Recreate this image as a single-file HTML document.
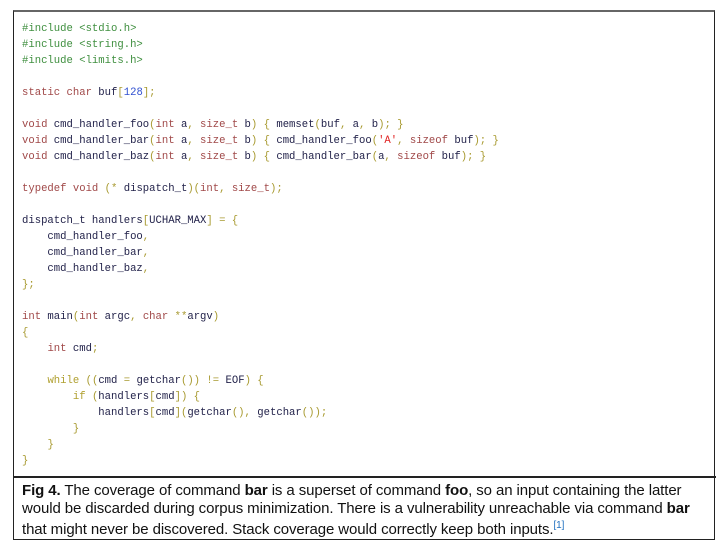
<!DOCTYPE html>
<html><head><meta charset="utf-8"><style>
html,body{margin:0;padding:0;background:#fff;width:728px;height:553px;overflow:hidden}
#box{position:absolute;left:13px;top:10px;width:702px;height:530px;border:1px solid #222;border-top:2px solid #666;box-sizing:border-box}
#div{position:absolute;left:13px;top:476px;width:703px;height:2px;background:#222}
pre{position:absolute;left:22px;top:21px;margin:0;font-family:"Liberation Mono",monospace;font-size:10.6px;line-height:16px;color:#22224a}
.g{color:#3f8f3f}.k{color:#a04848}.p{color:#a89a30}.n{color:#3050d0}.s{color:#e02020}.w{color:#b0a030}
#cap{position:absolute;left:22px;top:482px;width:688px;font-family:"Liberation Sans",Arial,sans-serif;font-size:15px;line-height:17.5px;color:#111;letter-spacing:-0.1px}
sup{color:#2070c0;font-size:10px}
</style></head><body>
<div id="box"></div><div id="div"></div>
<pre><span class="g">#include &lt;stdio.h&gt;
#include &lt;string.h&gt;
#include &lt;limits.h&gt;</span>

<span class="k">static char</span> buf<span class="p">[</span><span class="n">128</span><span class="p">];</span>

<span class="k">void</span> cmd_handler_foo<span class="p">(</span><span class="k">int</span> a<span class="p">,</span> <span class="k">size_t</span> b<span class="p">) {</span> memset<span class="p">(</span>buf<span class="p">,</span> a<span class="p">,</span> b<span class="p">); }</span>
<span class="k">void</span> cmd_handler_bar<span class="p">(</span><span class="k">int</span> a<span class="p">,</span> <span class="k">size_t</span> b<span class="p">) {</span> cmd_handler_foo<span class="p">(</span><span class="s">'A'</span><span class="p">,</span> <span class="k">sizeof</span> buf<span class="p">); }</span>
<span class="k">void</span> cmd_handler_baz<span class="p">(</span><span class="k">int</span> a<span class="p">,</span> <span class="k">size_t</span> b<span class="p">) {</span> cmd_handler_bar<span class="p">(</span>a<span class="p">,</span> <span class="k">sizeof</span> buf<span class="p">); }</span>

<span class="k">typedef void</span> <span class="p">(*</span> dispatch_t<span class="p">)(</span><span class="k">int</span><span class="p">,</span> <span class="k">size_t</span><span class="p">);</span>

dispatch_t handlers<span class="p">[</span>UCHAR_MAX<span class="p">] = {</span>
    cmd_handler_foo<span class="p">,</span>
    cmd_handler_bar<span class="p">,</span>
    cmd_handler_baz<span class="p">,</span>
<span class="p">};</span>

<span class="k">int</span> main<span class="p">(</span><span class="k">int</span> argc<span class="p">,</span> <span class="k">char</span> <span class="p">**</span>argv<span class="p">)</span>
<span class="p">{</span>
    <span class="k">int</span> cmd<span class="p">;</span>

    <span class="w">while</span> <span class="p">((</span>cmd <span class="p">=</span> getchar<span class="p">()) !=</span> EOF<span class="p">) {</span>
        <span class="w">if</span> <span class="p">(</span>handlers<span class="p">[</span>cmd<span class="p">]) {</span>
            handlers<span class="p">[</span>cmd<span class="p">](</span>getchar<span class="p">(),</span> getchar<span class="p">());</span>
        <span class="p">}</span>
    <span class="p">}</span>
<span class="p">}</span></pre>
<div id="cap"><b>Fig 4.</b> The coverage of command <b>bar</b> is a superset of command <b>foo</b>, so an input containing the latter would be discarded during corpus minimization. There is a vulnerability unreachable via command <b>bar</b> that might never be discovered. Stack coverage would correctly keep both inputs.<sup>[1]</sup></div>
</body></html>
